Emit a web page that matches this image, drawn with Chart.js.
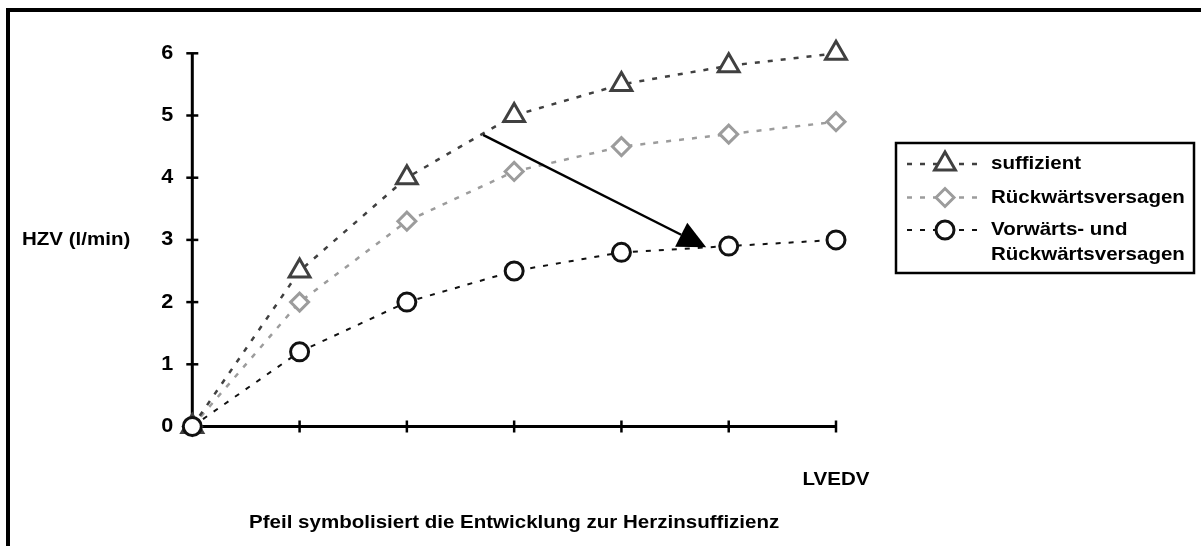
<!DOCTYPE html>
<html lang="de">
<head>
    <meta charset="UTF-8">
    <title>HZV gegen LVEDV</title>
    <script src="https://cdn.jsdelivr.net/npm/chart.js"></script>
    <style>
        html, body {
            margin: 0;
            padding: 0;
            background: #ffffff;
        }
        #wrap {
            position: relative;
            width: 1201px;
            height: 546px;
        }
    </style>
</head>
<body>
    <div id="wrap">
        <canvas id="hzvChart"></canvas>
    </div>

    <script>
        // Daten
        const xLabels = ['0', '1', '2', '3', '4', '5', '6'];
        const yTicks = [0, 1, 2, 3, 4, 5, 6];
        const suffizient = [0, 2.5, 4.0, 5.0, 5.5, 5.8, 6.0];
        const rueckwaerts = [0, 2.0, 3.3, 4.1, 4.5, 4.7, 4.9];
        const vorwaertsRueck = [0, 1.2, 2.0, 2.5, 2.8, 2.9, 3.0];
        // Pfeil (Datenkoordinaten: Kategorie-Index, HZV)
        const arrowFrom = [2.71, 4.69];
        const arrowTo = [4.79, 2.88];

        const yTitle = 'HZV (l/min)';
        const xTitle = 'LVEDV';
        const caption = 'Pfeil symbolisiert die Entwicklung zur Herzinsuffizienz';
        const legendLines = [['suffizient'], ['Rückwärtsversagen'], ['Vorwärts- und', 'Rückwärtsversagen']];

        const FONT = 'bold 19px "Liberation Sans", Arial, sans-serif';
        const TICK_FONT = 'bold 20px "Liberation Sans", Arial, sans-serif';
        const STRETCH = 1.08;

        function drawText(ctx, text, x, y, align, font) {
            ctx.save();
            ctx.font = font || FONT;
            ctx.fillStyle = '#000';
            ctx.textAlign = align;
            ctx.textBaseline = 'middle';
            ctx.translate(x, y);
            ctx.scale(STRETCH, 1);
            ctx.fillText(text, 0, 0);
            ctx.restore();
        }

        function drawMarker(ctx, style, x, y, r, color) {
            ctx.save();
            ctx.beginPath();
            if (style === 'triangle') {
                ctx.moveTo(x, y - r);
                ctx.lineTo(x + r * 0.866, y + r * 0.5);
                ctx.lineTo(x - r * 0.866, y + r * 0.5);
                ctx.closePath();
            } else if (style === 'rectRot') {
                ctx.moveTo(x - r, y);
                ctx.lineTo(x, y - r);
                ctx.lineTo(x + r, y);
                ctx.lineTo(x, y + r);
                ctx.closePath();
            } else {
                ctx.arc(x, y, r, 0, Math.PI * 2);
            }
            ctx.fillStyle = '#fff';
            ctx.fill();
            ctx.lineWidth = 3;
            ctx.strokeStyle = color;
            ctx.setLineDash([]);
            ctx.stroke();
            ctx.restore();
        }

        // Rahmen, Achsen und Beschriftungen
        const axesPlugin = {
            id: 'axesPlugin',
            beforeDatasetsDraw(chart) {
                const ctx = chart.ctx;
                const xs = chart.scales.x;
                const ys = chart.scales.y;
                const x0 = xs.getPixelForValue(0);
                const x1 = xs.getPixelForValue(xLabels.length - 1);
                const y0 = ys.getPixelForValue(0);
                const y1 = ys.getPixelForValue(6);

                ctx.save();
                // Rahmen oben/links
                ctx.fillStyle = '#000';
                ctx.fillRect(6, 8, 1201, 4);
                ctx.fillRect(6, 8, 4, 546);

                ctx.strokeStyle = '#000';
                ctx.lineWidth = 3;
                ctx.beginPath();
                ctx.moveTo(x0, y1);
                ctx.lineTo(x0, y0);
                ctx.lineTo(x1, y0);
                ctx.stroke();

                ctx.lineWidth = 2.5;
                yTicks.forEach(v => {
                    const y = ys.getPixelForValue(v);
                    ctx.beginPath();
                    ctx.moveTo(x0 - 6, y);
                    ctx.lineTo(x0 + 6, y);
                    ctx.stroke();
                    drawText(ctx, String(v), x0 - 19, y, 'right', TICK_FONT);
                });
                for (let i = 1; i < xLabels.length; i++) {
                    const x = xs.getPixelForValue(i);
                    ctx.beginPath();
                    ctx.moveTo(x, y0 - 6);
                    ctx.lineTo(x, y0 + 6);
                    ctx.stroke();
                }
                ctx.restore();

                drawText(ctx, yTitle, 22, ys.getPixelForValue(3), 'left');
                drawText(ctx, xTitle, x1, 480, 'center');
                drawText(ctx, caption, (x0 + x1) / 2, 523, 'center');
            },
            afterDatasetsDraw(chart) {
                const ctx = chart.ctx;
                const xs = chart.scales.x;
                const ys = chart.scales.y;
                const ax = xs.getPixelForValue(arrowFrom[0]);
                const ay = ys.getPixelForValue(arrowFrom[1]);
                const bx = xs.getPixelForValue(arrowTo[0]);
                const by = ys.getPixelForValue(arrowTo[1]);
                const ang = Math.atan2(by - ay, bx - ax);
                const len = 28, half = 13.5;
                const cx = bx - Math.cos(ang) * len;
                const cy = by - Math.sin(ang) * len;

                ctx.save();
                ctx.strokeStyle = '#000';
                ctx.lineWidth = 2.5;
                ctx.beginPath();
                ctx.moveTo(ax, ay);
                ctx.lineTo(cx, cy);
                ctx.stroke();
                ctx.fillStyle = '#000';
                ctx.beginPath();
                ctx.moveTo(bx, by);
                ctx.lineTo(cx - Math.sin(ang) * half, cy + Math.cos(ang) * half);
                ctx.lineTo(cx + Math.sin(ang) * half, cy - Math.cos(ang) * half);
                ctx.closePath();
                ctx.fill();
                ctx.restore();

                // Legende
                ctx.save();
                ctx.strokeStyle = '#000';
                ctx.lineWidth = 2.5;
                ctx.strokeRect(896, 143, 298, 130);
                const rows = [164, 197.5, 230];
                chart.data.datasets.forEach((ds, i) => {
                    const y = rows[i];
                    ctx.save();
                    ctx.strokeStyle = ds.borderColor;
                    ctx.lineWidth = ds.borderWidth;
                    ctx.setLineDash(ds.borderDash);
                    ctx.beginPath();
                    ctx.moveTo(907, y);
                    ctx.lineTo(978, y);
                    ctx.stroke();
                    ctx.restore();
                    drawMarker(ctx, ds.pointStyle, 945, y, ds.pointRadius, ds.pointBorderColor);
                    legendLines[i].forEach((t, k) => drawText(ctx, t, 991, y + k * 25, 'left'));
                });
                ctx.restore();
            }
        };

        const canvas = document.getElementById('hzvChart');
        canvas.width = 1201;
        canvas.height = 546;
        canvas.style.width = '1201px';
        canvas.style.height = '546px';

        new Chart(canvas.getContext('2d'), {
            type: 'line',
            data: {
                labels: xLabels,
                datasets: [
                    {
                        label: 'suffizient',
                        data: suffizient,
                        borderColor: '#404040',
                        borderWidth: 2.5,
                        borderDash: [5, 8],
                        pointStyle: 'triangle',
                        pointRadius: 12,
                        pointBorderWidth: 3,
                        pointBorderColor: '#404040',
                        pointBackgroundColor: '#ffffff',
                        tension: 0,
                        fill: false,
                        clip: false,
                        order: 1
                    },
                    {
                        label: 'Rückwärtsversagen',
                        data: rueckwaerts,
                        borderColor: '#9c9c9c',
                        borderWidth: 2.5,
                        borderDash: [5, 8],
                        pointStyle: 'rectRot',
                        pointRadius: 9,
                        pointBorderWidth: 3,
                        pointBorderColor: '#9c9c9c',
                        pointBackgroundColor: '#ffffff',
                        tension: 0,
                        fill: false,
                        clip: false,
                        order: 2
                    },
                    {
                        label: 'Vorwärts- und Rückwärtsversagen',
                        data: vorwaertsRueck,
                        borderColor: '#111111',
                        borderWidth: 2,
                        borderDash: [5, 8],
                        pointStyle: 'circle',
                        pointRadius: 9,
                        pointBorderWidth: 3,
                        pointBorderColor: '#111111',
                        pointBackgroundColor: '#ffffff',
                        tension: 0,
                        fill: false,
                        clip: false,
                        order: 0
                    }
                ]
            },
            options: {
                responsive: false,
                animation: false,
                events: [],
                layout: {
                    padding: { left: 192.3, top: 53.3, right: 365, bottom: 119.5 }
                },
                scales: {
                    x: { type: 'category', display: false, offset: false },
                    y: { type: 'linear', display: false, min: 0, max: 6 }
                },
                plugins: {
                    legend: { display: false },
                    tooltip: { enabled: false }
                }
            },
            plugins: [axesPlugin]
        });
    </script>
</body>
</html>
